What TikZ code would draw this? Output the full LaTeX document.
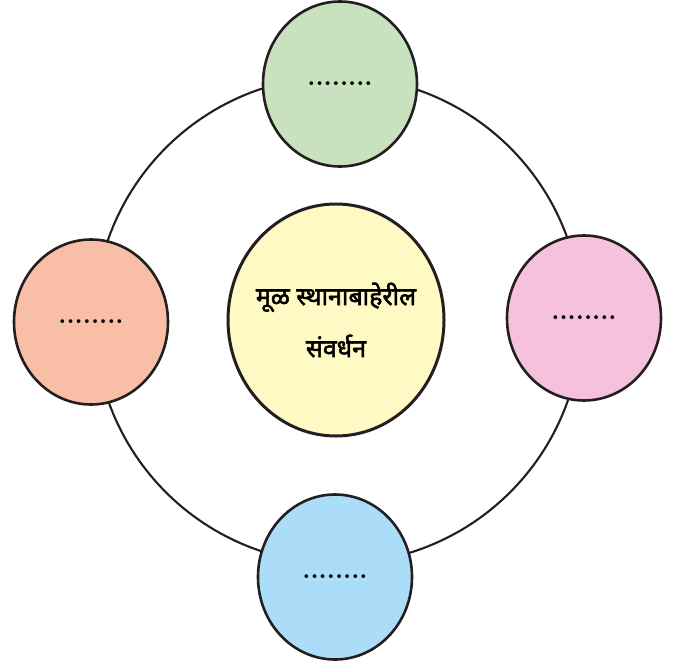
\documentclass[tikz,border=0pt]{standalone}
\usepackage{fontspec}
\usepackage{tikz}
\usetikzlibrary{positioning,shapes.geometric}
\newfontfamily\devfont[Script=Devanagari,BoldFont={Noto Sans},BoldFeatures={FakeBold=2.2}]{Noto Sans}

\definecolor{linedark}{HTML}{231F20}
\definecolor{leafgreen}{HTML}{C8E2C0}
\definecolor{leafsalmon}{HTML}{F8BFA6}
\definecolor{leafpink}{HTML}{F6C1DC}
\definecolor{leafblue}{HTML}{ACDDF8}
\definecolor{hubyellow}{HTML}{FFF9C4}

\begin{document}
\begin{tikzpicture}[x=1pt,y=-1pt]
\tikzset{leaf/.style={draw=linedark,line width=2.6pt,shape=ellipse,
    minimum width=154pt,minimum height=165pt,inner sep=0pt,
    font=\bfseries\fontsize{26}{28}\selectfont},
  hub/.style={draw=linedark,line width=3pt,shape=ellipse,fill=hubyellow,
    minimum width=216pt,minimum height=232pt,inner sep=0pt},
  hubtext/.style={align=center,inner sep=0pt,
    font=\devfont\bfseries\fontsize{25}{52}\selectfont}}
\useasboundingbox (0,0) rectangle (675,665);

% ring behind everything
\node[draw=linedark,line width=2.1pt,circle,minimum size=487pt,inner sep=0pt] (ring) at (338,320) {};

\node[hub] (hub) at (336,320) {};
\node[hubtext] (title) at (hub.center) {मूळ स्थानाबाहेरील\\संवर्धन};

\node[leaf,fill=leafgreen] (n1) at (340,84) {........};
\node[leaf,fill=leafsalmon] (n2) at (91,322) {........};
\node[leaf,fill=leafpink] (n3) at (584,318) {........};
\node[leaf,fill=leafblue] (n4) at (335,577) {........};
\end{tikzpicture}
\end{document}
